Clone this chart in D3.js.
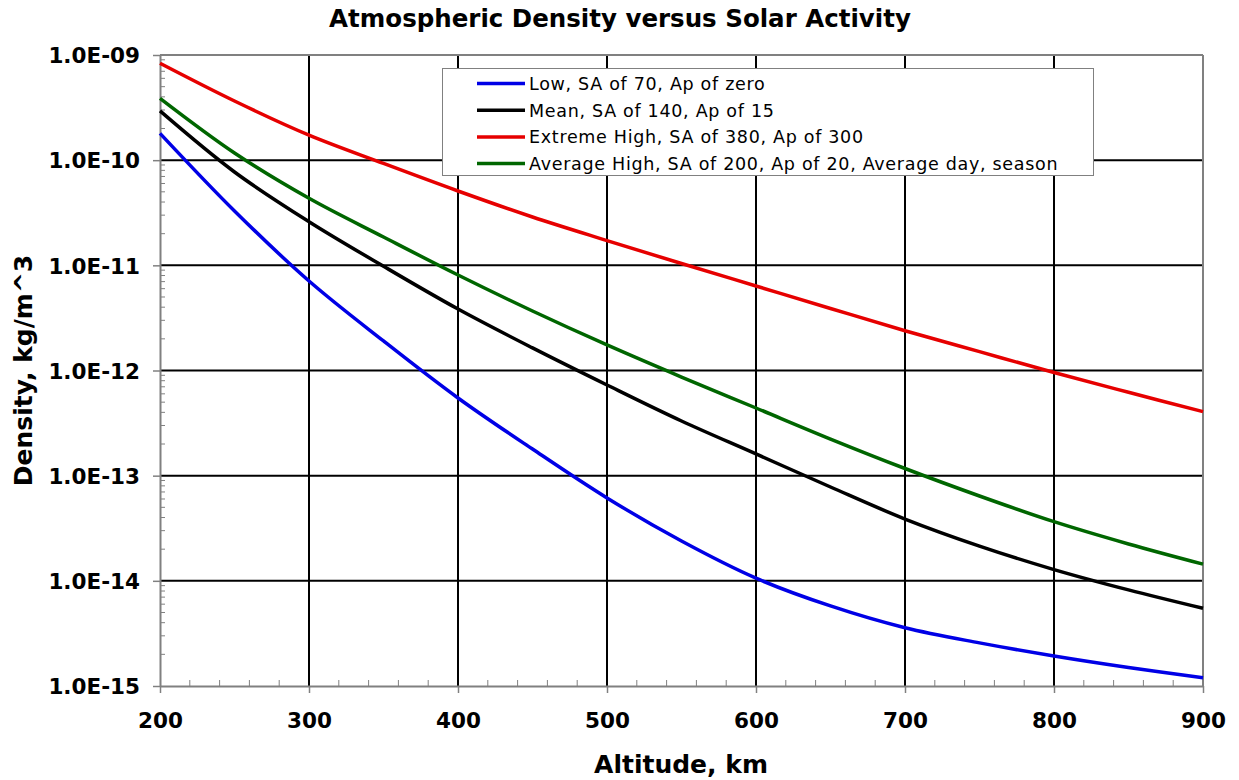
<!DOCTYPE html>
<html>
<head>
  <title>Atmospheric Density versus Solar Activity</title>
  <script type="text/javascript" src="https://d3js.org/d3.v7.min.js"></script>
  <style type="text/css">
    body {
      margin: 0px;
      background: #fff;
    }
    text {
      font-family: "DejaVu Sans", Verdana, sans-serif;
    }
  </style>
</head>
<body>
  <svg width="1239" height="780"></svg>
  <script type="text/javascript">
    // altitude in km, density in kg/m^3
    var altitude = [200, 250, 300, 350, 400, 450, 500, 550, 600, 650, 700, 750, 800, 850, 900];
    var lowDensity = [1.80e-10, 3.29e-11, 7.10e-12, 1.91e-12, 5.48e-13, 1.79e-13, 6.14e-14, 2.39e-14, 1.06e-14, 5.77e-15, 3.58e-15, 2.57e-15, 1.93e-15, 1.50e-15, 1.20e-15];
    var meanDensity = [2.94e-10, 7.72e-11, 2.60e-11, 9.8e-12, 3.84e-12, 1.64e-12, 7.28e-13, 3.31e-13, 1.61e-13, 7.80e-14, 3.87e-14, 2.14e-14, 1.28e-14, 8.2e-15, 5.48e-15];
    var extremeDensity = [8.34e-10, 3.65e-10, 1.73e-10, 9.3e-11, 5.09e-11, 2.88e-11, 1.72e-11, 1.04e-11, 6.36e-12, 3.89e-12, 2.39e-12, 1.51e-12, 9.57e-13, 6.21e-13, 4.06e-13];
    var avgHighDensity = [3.87e-10, 1.17e-10, 4.34e-11, 1.86e-11, 8.09e-12, 3.68e-12, 1.75e-12, 8.67e-13, 4.40e-13, 2.23e-13, 1.17e-13, 6.41e-14, 3.65e-14, 2.24e-14, 1.44e-14];

    var seriesNames = [
      "Low, SA of 70, Ap of zero",
      "Mean, SA of 140, Ap of 15",
      "Extreme High, SA of 380, Ap of 300",
      "Average High, SA of 200, Ap of 20, Average day, season"
    ];
    var seriesValues = [lowDensity, meanDensity, extremeDensity, avgHighDensity];
    var seriesColors = ["#0000e6", "#000000", "#e60000", "#006600"];

    var xTicks = [200, 300, 400, 500, 600, 700, 800, 900];
    var yTicks = [1e-15, 1e-14, 1e-13, 1e-12, 1e-11, 1e-10, 1e-9];

    var svg = d3.select("svg");
    var plotLeft = 160, plotRight = 1203, plotTop = 55, plotBottom = 686;

    var x = d3.scaleLinear().domain([200, 900]).range([plotLeft, plotRight]);
    var y = d3.scaleLog().domain([1e-15, 1e-9]).range([plotBottom, plotTop]);

    function fmt(d){
      var e = Math.round(Math.log10(d));
      var s = Math.abs(e) < 10 ? "0" + Math.abs(e) : "" + Math.abs(e);
      return "1.0E" + (e < 0 ? "-" : "+") + s;
    }

    // minor ticks
    var yMinor = [];
    for (var k = -15; k < -9; k++){
      for (var m = 2; m <= 9; m++) yMinor.push(m * Math.pow(10, k));
    }
    var xMinor = d3.range(200, 901, 20).filter(function(v){ return v % 100 !== 0; });

    svg.append("g").selectAll("line").data(yMinor).join("line")
      .attr("x1", plotLeft).attr("x2", plotLeft + 5)
      .attr("y1", function(d){ return y(d); }).attr("y2", function(d){ return y(d); })
      .attr("stroke", "#808080").attr("stroke-width", 1);
    svg.append("g").selectAll("line").data(xMinor).join("line")
      .attr("x1", function(d){ return x(d); }).attr("x2", function(d){ return x(d); })
      .attr("y1", plotBottom).attr("y2", plotBottom - 6)
      .attr("stroke", "#808080").attr("stroke-width", 1);

    // grid
    svg.append("g").selectAll("line").data(xTicks.slice(1, -1)).join("line")
      .attr("x1", function(d){ return x(d); }).attr("x2", function(d){ return x(d); })
      .attr("y1", plotTop).attr("y2", plotBottom)
      .attr("stroke", "#000").attr("stroke-width", 2);
    svg.append("g").selectAll("line").data(yTicks.slice(1, -1)).join("line")
      .attr("x1", plotLeft).attr("x2", plotRight)
      .attr("y1", function(d){ return y(d); }).attr("y2", function(d){ return y(d); })
      .attr("stroke", "#000").attr("stroke-width", 2);

    // axes
    var xAxis = d3.axisBottom(x).tickValues(xTicks).tickSize(7).tickSizeOuter(0).tickFormat(d3.format("d"));
    var yAxis = d3.axisLeft(y).tickValues(yTicks).tickSize(7).tickSizeOuter(0).tickFormat(fmt);

    var gx = svg.append("g").attr("transform", "translate(0," + plotBottom + ")").call(xAxis);
    var gy = svg.append("g").attr("transform", "translate(" + plotLeft + ",0)").call(yAxis);
    [gx, gy].forEach(function(g){
      g.select(".domain").attr("stroke", "#808080").attr("stroke-width", 2);
      g.selectAll(".tick line").attr("stroke", "#808080").attr("stroke-width", 1.5);
      g.selectAll(".tick text")
        .attr("fill", "#000")
        .style("font-family", "'DejaVu Sans', Verdana, sans-serif")
        .style("font-weight", "bold")
        .style("font-size", "21.5px");
    });
    gx.selectAll(".tick text").attr("dy", "0").attr("y", 42);
    gy.selectAll(".tick text").attr("x", -20).attr("dy", "0.36em");

    // top and right frame
    svg.append("line").attr("x1", plotLeft).attr("x2", plotRight).attr("y1", plotTop).attr("y2", plotTop)
      .attr("stroke", "#808080").attr("stroke-width", 2);
    svg.append("line").attr("x1", plotRight).attr("x2", plotRight).attr("y1", plotTop).attr("y2", plotBottom)
      .attr("stroke", "#808080").attr("stroke-width", 2);

    // curves
    var line = d3.line()
      .x(function(d){ return x(d[0]); })
      .y(function(d){ return y(d[1]); })
      .curve(d3.curveCatmullRom.alpha(0.5));

    seriesValues.forEach(function(vals, i){
      svg.append("path")
        .datum(altitude.map(function(a, j){ return [a, vals[j]]; }))
        .attr("fill", "none")
        .attr("stroke", seriesColors[i])
        .attr("stroke-width", 3.5)
        .attr("d", line);
    });

    // legend
    var legend = svg.append("g");
    legend.append("rect")
      .attr("x", 442.5).attr("y", 68.5).attr("width", 651).attr("height", 107)
      .attr("fill", "#fff").attr("stroke", "#808080").attr("stroke-width", 1);
    seriesNames.forEach(function(name, i){
      var ly = 83.5 + i * 26.7;
      legend.append("line")
        .attr("x1", 477).attr("x2", 525).attr("y1", ly).attr("y2", ly)
        .attr("stroke", seriesColors[i]).attr("stroke-width", 3.5);
      legend.append("text")
        .attr("x", 529).attr("y", ly).attr("dy", "0.36em")
        .style("font-size", "17.5px")
        .style("letter-spacing", "0.7px")
        .text(name);
    });

    // titles
    svg.append("text")
      .attr("x", 620).attr("y", 27)
      .attr("text-anchor", "middle")
      .style("font-weight", "bold").style("font-size", "24.5px")
      .text("Atmospheric Density versus Solar Activity");

    svg.append("text")
      .attr("x", 681).attr("y", 773)
      .attr("text-anchor", "middle")
      .style("font-weight", "bold").style("font-size", "25px")
      .text("Altitude, km");

    svg.append("text")
      .attr("transform", "translate(32," + ((plotTop + plotBottom) / 2) + ") rotate(-90)")
      .attr("text-anchor", "middle")
      .style("font-weight", "bold").style("font-size", "25px")
      .text("Density, kg/m^3");
  </script>
</body>
</html>
